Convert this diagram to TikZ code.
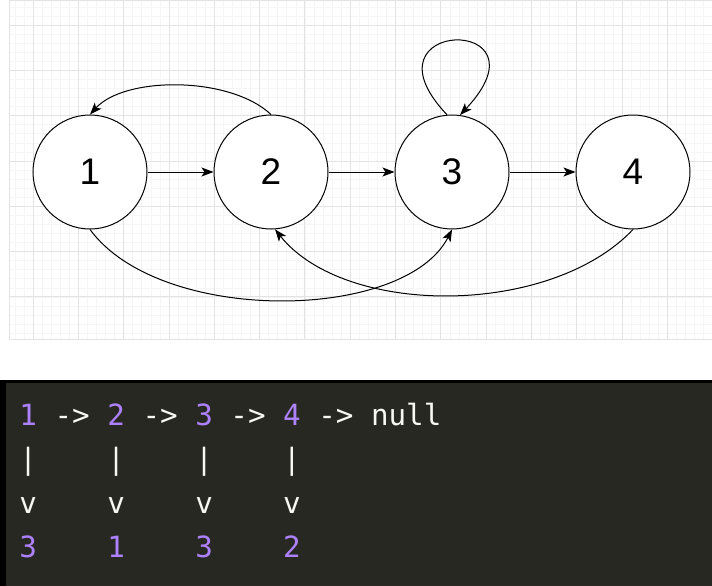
\documentclass[tikz,border=0pt]{standalone}
\usepackage{fontspec}
\usepackage{tikz}
\usetikzlibrary{arrows.meta}
\newfontfamily\nodefont{Liberation Sans}
\newfontfamily\codefont{DejaVu Sans Mono}
\definecolor{codebg}{HTML}{272822}
\definecolor{codenum}{HTML}{AE81FF}
\definecolor{codetxt}{HTML}{F8F8F2}
\definecolor{gridmajor}{HTML}{E3E3E3}
\definecolor{gridminor}{HTML}{F6F6F6}

\begin{document}
\begin{tikzpicture}[->,>={Stealth[length=12pt,width=9pt,inset=3pt]},x=1pt,y=-1pt,line width=1pt,
    vertex/.style={circle,draw,fill=white,minimum size=114pt,inner sep=0pt,
      font=\nodefont\fontsize{37}{37}\selectfont},
    codeline/.style={anchor=base west,inner sep=0pt,text=codetxt,
      font=\codefont\fontsize{29.2}{29.2}\selectfont}]
                \useasboundingbox (0,0) rectangle (712,586);
                % grid
                \foreach \x in {14.9,23.96,...,712} \draw[-,gridminor,line width=0.5pt] (\x,0) -- (\x,339);
                \foreach \y in {6.9,15.96,...,339} \draw[-,gridminor,line width=0.5pt] (9,\y) -- (712,\y);
                \foreach \x in {33,78.3,...,712} \draw[-,gridmajor,line width=0.7pt] (\x,0) -- (\x,339);
                \foreach \y in {25,70.3,...,339} \draw[-,gridmajor,line width=0.7pt] (9,\y) -- (712,\y);
                \draw[-,gridmajor,line width=0.7pt] (9,0) rectangle (712,339);

                \node[vertex] (n1) at (90,172)  {1};
                \node[vertex] (n2) at (271,172) {2};
                \node[vertex] (n3) at (452,172) {3};
                \node[vertex] (n4) at (633,172) {4};

                \draw (n1) -- (n2);
                \draw (n2) -- (n3);
                \draw (n3) -- (n4);
                \draw (n2.north) .. controls (230,76) and (125,76) .. (n1.north);
                \draw (n3.95) .. controls (355,18) and (555,14) .. (n3.82);
                \draw (n1.south) .. controls (160,325) and (405,322) .. (n3.south);
                \draw (n4.south) .. controls (550,317) and (345,317) .. (n2.-86);

                % code box
                \fill[black] (0,380) rectangle (712,586);
                \fill[codebg] (6,383) rectangle (712,586);
                \node[codeline] (l1) at (19,425) {\textcolor{codenum}{1} -> \textcolor{codenum}{2} -> \textcolor{codenum}{3} -> \textcolor{codenum}{4} -> null};
                \node[codeline] (l2) at (19,469) {|~~~~|~~~~|~~~~|};
                \node[codeline] (l3) at (19,513) {v~~~~v~~~~v~~~~v};
                \node[codeline,text=codenum] (l4) at (19,557) {3~~~~1~~~~3~~~~2};
             \end{tikzpicture}
\end{document}
